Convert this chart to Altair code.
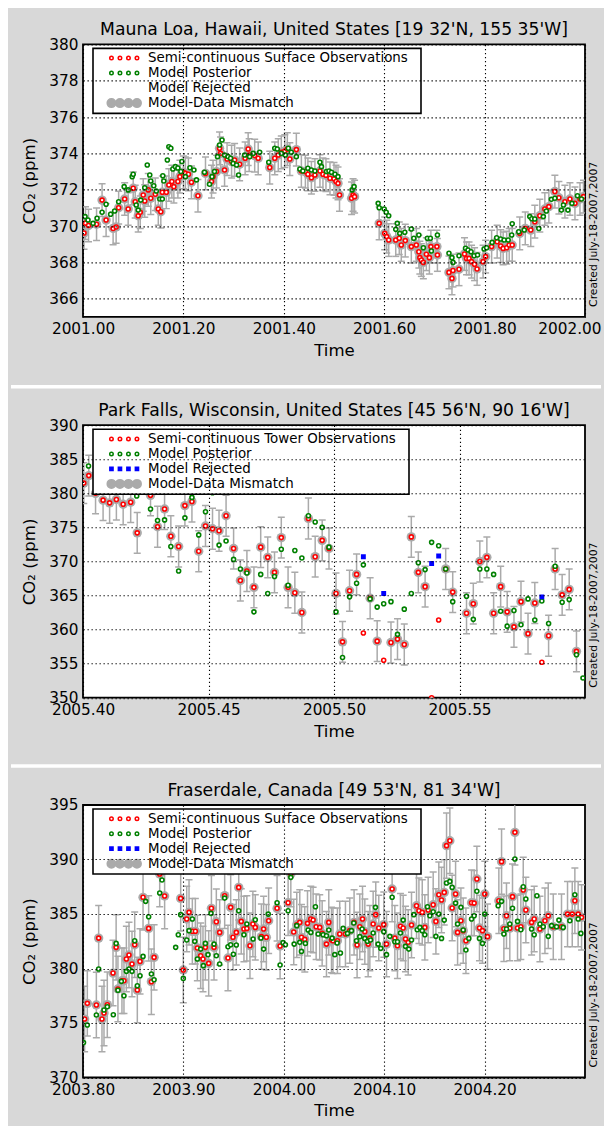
import altair as alt
import pandas as pd

FONT = "DejaVu Sans"
RED, GREEN, BLUE, GRAY = "#ff0000", "#008000", "#0000ff", "#aaaaaa"
BG = "#d8d8d8"
CREATED = "Created July-18-2007,2007"
W, H = 502, 272.5

# ---------------- Mauna Loa ----------------
ML_TITLE = "Mauna Loa, Hawaii, United States [19 32'N, 155 35'W]"
ML_SERIES = ["Semi-continuous Surface Observations", "Model Posterior",
             "Model Rejected", "Model-Data Mismatch"]
ML_X_DOMAIN = [2001.0, 2002.0]
ML_X_TICKS = [2001.0, 2001.2, 2001.4, 2001.6, 2001.8, 2002.0]
ML_Y_DOMAIN = [365, 380]
ML_Y_TICKS = [366, 368, 370, 372, 374, 376, 378, 380]
ML_MISMATCH = 0.9
ML_OBS = [
    (2001.002, 369.62), (2001.005, 370.16), (2001.011, 370.03), (2001.027, 370.10), (2001.038, 371.43),
    (2001.046, 370.33), (2001.060, 369.87), (2001.066, 369.95), (2001.071, 371.01), (2001.083, 371.49),
    (2001.090, 370.94), (2001.100, 372.08), (2001.104, 371.34), (2001.110, 370.57), (2001.114, 370.76),
    (2001.120, 371.71), (2001.123, 371.38), (2001.130, 371.99), (2001.135, 371.53), (2001.144, 371.75),
    (2001.150, 370.94), (2001.155, 370.79), (2001.158, 371.86), (2001.166, 371.86), (2001.171, 372.26),
    (2001.177, 372.45), (2001.181, 372.17), (2001.189, 372.45), (2001.193, 372.72), (2001.200, 372.96),
    (2001.204, 372.90), (2001.210, 372.85), (2001.216, 372.41), (2001.229, 371.67), (2001.244, 372.90),
    (2001.256, 372.45), (2001.259, 372.72), (2001.266, 373.00), (2001.272, 374.28), (2001.274, 374.00),
    (2001.282, 373.09), (2001.287, 373.69), (2001.296, 373.55), (2001.302, 373.64), (2001.312, 373.40),
    (2001.323, 373.73), (2001.329, 374.24), (2001.331, 373.91), (2001.342, 373.88), (2001.349, 373.73),
    (2001.372, 373.22), (2001.382, 373.73), (2001.389, 373.91), (2001.395, 374.06), (2001.402, 374.13),
    (2001.407, 374.24), (2001.412, 373.69), (2001.425, 374.21), (2001.435, 373.03), (2001.443, 373.00),
    (2001.448, 372.85), (2001.455, 372.66), (2001.462, 372.81), (2001.472, 373.03), (2001.478, 372.85),
    (2001.484, 372.80), (2001.492, 372.63), (2001.500, 372.60), (2001.504, 372.45), (2001.508, 372.35),
    (2001.511, 371.71), (2001.535, 371.53), (2001.538, 371.71), (2001.541, 371.62),
    (2001.590, 370.15), (2001.601, 369.60), (2001.605, 369.42), (2001.609, 369.23), (2001.623, 369.23),
    (2001.630, 369.33), (2001.634, 368.96), (2001.642, 369.20), (2001.654, 368.87), (2001.664, 368.96),
    (2001.669, 368.59), (2001.671, 368.26), (2001.674, 368.13), (2001.678, 368.00), (2001.684, 368.45),
    (2001.690, 368.26), (2001.693, 368.87), (2001.705, 368.87), (2001.706, 368.41), (2001.729, 367.45),
    (2001.735, 367.12), (2001.737, 367.55), (2001.749, 367.62), (2001.760, 368.46), (2001.764, 368.22),
    (2001.769, 368.22), (2001.774, 368.04), (2001.780, 367.90), (2001.785, 367.64), (2001.797, 368.04),
    (2001.802, 368.32), (2001.814, 368.87), (2001.825, 369.14), (2001.832, 368.90), (2001.837, 368.77),
    (2001.844, 368.81), (2001.849, 368.96), (2001.855, 368.96), (2001.870, 369.60), (2001.881, 369.87),
    (2001.892, 369.78), (2001.900, 370.24), (2001.910, 370.57), (2001.920, 370.94), (2001.928, 371.07),
    (2001.940, 371.90), (2001.948, 371.56), (2001.960, 371.34), (2001.970, 371.49), (2001.980, 371.25),
    (2001.990, 371.49), (2001.997, 371.62),
]
ML_MODEL = [
    (2001.004, 370.52), (2001.010, 370.33), (2001.020, 370.15), (2001.028, 370.43), (2001.038, 370.76),
    (2001.046, 371.20), (2001.055, 370.65), (2001.063, 370.83), (2001.071, 371.34), (2001.082, 372.17),
    (2001.090, 371.99), (2001.098, 372.72), (2001.100, 372.85), (2001.106, 371.16), (2001.110, 370.88),
    (2001.115, 371.43), (2001.123, 372.11), (2001.128, 373.36), (2001.133, 372.81), (2001.135, 372.48),
    (2001.141, 372.22), (2001.146, 371.93), (2001.153, 371.49), (2001.158, 371.49), (2001.159, 372.77),
    (2001.161, 372.48), (2001.168, 373.64), (2001.171, 374.37), (2001.175, 374.28), (2001.179, 373.14),
    (2001.184, 373.27), (2001.189, 373.20), (2001.195, 373.00), (2001.197, 373.55), (2001.204, 372.72),
    (2001.213, 373.21), (2001.221, 373.09), (2001.226, 372.54), (2001.242, 372.96), (2001.252, 372.30),
    (2001.257, 372.72), (2001.262, 373.00), (2001.268, 373.82), (2001.272, 374.46), (2001.277, 374.74),
    (2001.282, 373.91), (2001.289, 373.82), (2001.294, 373.73), (2001.299, 373.45), (2001.306, 373.36),
    (2001.310, 372.81), (2001.322, 373.91), (2001.332, 373.82), (2001.339, 374.00), (2001.352, 374.06),
    (2001.370, 373.51), (2001.382, 374.28), (2001.387, 374.24), (2001.395, 374.00), (2001.403, 373.91),
    (2001.409, 374.28), (2001.415, 374.06), (2001.425, 373.82), (2001.432, 373.14), (2001.438, 373.03),
    (2001.448, 373.18), (2001.455, 373.09), (2001.462, 373.03), (2001.472, 373.51), (2001.475, 373.27),
    (2001.485, 373.00), (2001.490, 373.03), (2001.495, 372.96), (2001.502, 372.85), (2001.508, 372.72),
    (2001.536, 371.99), (2001.540, 372.17),
    (2001.588, 371.25), (2001.590, 371.01), (2001.600, 370.94), (2001.604, 370.76), (2001.609, 370.57),
    (2001.623, 369.82), (2001.626, 370.15), (2001.631, 369.60), (2001.641, 369.66), (2001.654, 369.84),
    (2001.659, 369.33), (2001.669, 369.51), (2001.678, 368.81), (2001.686, 369.33), (2001.692, 369.33),
    (2001.694, 368.63), (2001.706, 369.51), (2001.729, 368.50), (2001.735, 368.26), (2001.737, 368.00),
    (2001.749, 368.37), (2001.762, 368.78), (2001.767, 368.68), (2001.773, 368.59), (2001.779, 368.37),
    (2001.786, 368.41), (2001.799, 368.74), (2001.804, 368.81), (2001.815, 369.10), (2001.824, 369.36),
    (2001.832, 369.29), (2001.839, 369.23), (2001.847, 369.23), (2001.854, 369.51), (2001.855, 370.13),
    (2001.868, 369.69), (2001.879, 369.78), (2001.890, 370.52), (2001.894, 370.40), (2001.900, 370.39),
    (2001.908, 369.87), (2001.917, 370.52), (2001.923, 370.83), (2001.933, 371.47), (2001.940, 371.53),
    (2001.953, 370.88), (2001.957, 371.16), (2001.966, 370.88), (2001.974, 371.25), (2001.985, 371.67),
    (2001.993, 371.49),
]
ML_REJ_OBS = []
ML_REJECTED = []

# ---------------- Park Falls ----------------
PF_TITLE = "Park Falls, Wisconsin, United States [45 56'N, 90 16'W]"
PF_SERIES = ["Semi-continuous Tower Observations", "Model Posterior",
             "Model Rejected", "Model-Data Mismatch"]
PF_X_DOMAIN = [2005.4, 2005.6]
PF_X_TICKS = [2005.40, 2005.45, 2005.50, 2005.55]
PF_Y_DOMAIN = [350, 390]
PF_Y_TICKS = [350, 355, 360, 365, 370, 375, 380, 385, 390]
PF_MISMATCH = 3.0
PF_OBS = [
    (2005.4003, 381.5), (2005.4023, 382.6), (2005.4050, 380.0), (2005.4080, 379.0), (2005.4106, 378.6),
    (2005.4133, 379.1), (2005.4160, 378.4), (2005.4190, 378.7), (2005.4216, 374.2), (2005.4269, 379.7),
    (2005.4297, 375.1), (2005.4325, 377.7), (2005.4350, 373.7), (2005.4381, 372.2), (2005.4406, 378.2),
    (2005.4434, 378.8), (2005.4461, 371.5), (2005.4488, 375.2), (2005.4516, 374.8), (2005.4542, 374.5),
    (2005.4570, 376.7), (2005.4600, 371.9), (2005.4627, 367.2), (2005.4653, 368.6), (2005.4681, 366.2),
    (2005.4708, 372.1), (2005.4736, 370.6), (2005.4763, 368.4), (2005.4790, 373.5), (2005.4817, 366.2),
    (2005.4844, 365.4), (2005.4872, 362.5), (2005.4898, 376.3), (2005.4925, 370.7), (2005.4953, 373.1),
    (2005.4980, 371.9), (2005.5008, 365.3), (2005.5034, 358.2), (2005.5062, 365.7), (2005.5090, 368.1),
    (2005.5144, 364.6), (2005.5172, 358.3), (2005.5227, 358.1), (2005.5253, 358.6), (2005.5280, 357.8),
    (2005.5308, 373.6), (2005.5336, 368.4), (2005.5363, 366.3), (2005.5445, 368.9), (2005.5473, 365.5),
    (2005.5528, 362.4), (2005.5555, 363.8), (2005.5581, 370.0), (2005.5609, 370.6), (2005.5636, 362.4),
    (2005.5664, 366.3), (2005.5690, 362.6), (2005.5717, 360.4), (2005.5745, 364.1), (2005.5773, 359.4),
    (2005.5800, 363.9), (2005.5855, 359.1), (2005.5881, 368.9), (2005.5909, 365.1), (2005.5937, 365.9),
    (2005.5966, 356.8),
]
PF_REJ_OBS = [(2005.5117, 359.5), (2005.5198, 355.5), (2005.5389, 350.0), (2005.5417, 361.4),
              (2005.5828, 355.2)]
PF_MODEL = [
    (2005.4022, 384.0), (2005.4214, 379.6), (2005.4269, 377.7), (2005.4297, 376.0), (2005.4325, 376.1),
    (2005.4350, 372.2), (2005.4381, 368.6), (2005.4406, 376.4), (2005.4434, 379.4), (2005.4461, 373.9),
    (2005.4488, 377.3), (2005.4516, 380.1), (2005.4542, 372.4), (2005.4570, 373.0), (2005.4600, 370.3),
    (2005.4627, 368.9), (2005.4653, 368.3), (2005.4681, 362.6), (2005.4708, 368.1), (2005.4736, 365.3),
    (2005.4763, 367.8), (2005.4790, 371.8), (2005.4817, 366.5), (2005.4844, 371.6), (2005.4872, 370.5),
    (2005.4898, 376.7), (2005.4925, 375.8), (2005.4953, 375.0), (2005.4980, 372.1), (2005.5008, 362.6),
    (2005.5034, 355.9), (2005.5062, 364.8), (2005.5090, 366.8), (2005.5117, 369.5), (2005.5144, 364.5),
    (2005.5172, 363.3), (2005.5198, 363.8), (2005.5227, 364.1), (2005.5253, 359.3), (2005.5280, 363.0),
    (2005.5308, 365.3), (2005.5336, 369.8), (2005.5363, 368.8), (2005.5389, 372.8), (2005.5417, 372.3),
    (2005.5445, 368.9), (2005.5473, 364.1), (2005.5528, 364.9), (2005.5555, 361.5), (2005.5581, 368.9),
    (2005.5609, 368.9), (2005.5636, 368.1), (2005.5664, 362.7), (2005.5690, 360.5), (2005.5717, 362.8),
    (2005.5745, 360.7), (2005.5773, 364.5), (2005.5800, 361.4), (2005.5828, 364.2), (2005.5855, 360.9),
    (2005.5881, 369.3), (2005.5909, 364.0), (2005.5937, 364.4), (2005.5966, 356.3), (2005.5992, 352.9),
]
PF_REJECTED = [(2005.5117, 370.7), (2005.5198, 365.3), (2005.5389, 369.7), (2005.5417, 370.8),
               (2005.5828, 364.8)]

# ---------------- Fraserdale ----------------
FR_TITLE = "Fraserdale, Canada [49 53'N, 81 34'W]"
FR_SERIES = ["Semi-continuous Surface Observations", "Model Posterior",
             "Model Rejected", "Model-Data Mismatch"]
FR_X_DOMAIN = [2003.8, 2004.3]
FR_X_TICKS = [2003.8, 2003.9, 2004.0, 2004.1, 2004.2]
FR_Y_DOMAIN = [370, 395]
FR_Y_TICKS = [370, 375, 380, 385, 390, 395]
FR_MISMATCH = 3.0
FR_OBS = [
    (2003.8016, 375.36), (2003.8043, 376.80), (2003.8133, 376.65), (2003.8156, 382.79), (2003.8189, 375.36),
    (2003.8209, 375.91), (2003.8242, 376.68), (2003.8299, 379.58), (2003.8330, 381.94), (2003.8348, 378.12),
    (2003.8388, 378.88), (2003.8408, 378.88), (2003.8432, 380.87), (2003.8458, 381.24), (2003.8488, 380.41),
    (2003.8515, 382.18), (2003.8541, 378.02), (2003.8568, 380.65), (2003.8598, 386.53), (2003.8654, 383.68),
    (2003.8681, 378.79), (2003.8708, 381.02), (2003.8764, 388.67), (2003.8813, 386.65), (2003.8973, 386.43),
    (2003.8999, 379.86), (2003.9033, 384.54), (2003.9056, 385.15), (2003.9089, 383.41), (2003.9119, 383.41),
    (2003.9139, 381.88), (2003.9172, 381.17), (2003.9195, 380.87), (2003.9219, 381.94), (2003.9252, 380.47),
    (2003.9279, 385.52), (2003.9305, 381.94), (2003.9328, 384.29), (2003.9361, 383.31), (2003.9411, 386.68),
    (2003.9444, 380.96), (2003.9471, 385.61), (2003.9494, 382.86), (2003.9527, 383.31), (2003.9551, 387.44),
    (2003.9576, 384.32), (2003.9603, 383.62), (2003.9632, 383.68), (2003.9663, 382.09), (2003.9692, 384.08),
    (2003.9716, 383.77), (2003.9777, 382.92), (2003.9799, 383.62), (2003.9826, 382.86), (2003.9849, 384.38),
    (2003.9933, 385.52), (2003.9963, 382.06), (2004.0043, 386.03), (2004.0070, 388.67), (2004.0099, 383.35),
    (2004.0129, 384.00), (2004.0159, 384.23), (2004.0176, 382.86), (2004.0209, 382.67), (2004.0236, 384.14),
    (2004.0269, 384.54), (2004.0292, 384.45), (2004.0322, 383.83), (2004.0358, 383.77), (2004.0382, 383.22),
    (2004.0425, 382.24), (2004.0448, 384.23), (2004.0475, 382.61), (2004.0490, 382.55), (2004.0534, 382.55),
    (2004.0557, 383.16), (2004.0614, 383.16), (2004.0657, 383.47), (2004.0700, 384.23), (2004.0730, 382.15),
    (2004.0757, 383.83), (2004.0784, 384.54), (2004.0807, 383.38), (2004.0840, 382.24), (2004.0857, 382.79),
    (2004.0890, 384.08), (2004.0916, 384.94), (2004.0946, 383.71), (2004.0996, 384.02), (2004.1023, 382.24),
    (2004.1079, 387.29), (2004.1106, 382.79), (2004.1132, 382.09), (2004.1162, 383.87), (2004.1189, 383.71),
    (2004.1212, 382.70), (2004.1239, 382.40), (2004.1272, 383.99), (2004.1322, 385.76), (2004.1346, 385.30),
    (2004.1379, 385.15), (2004.1405, 383.77), (2004.1438, 385.36), (2004.1488, 385.85), (2004.1515, 384.32),
    (2004.1544, 386.77), (2004.1571, 386.28), (2004.1598, 386.98), (2004.1621, 391.27), (2004.1654, 391.72),
    (2004.1677, 385.55), (2004.1711, 386.83), (2004.1731, 383.31), (2004.1764, 384.38), (2004.1787, 383.47),
    (2004.1814, 382.55), (2004.1870, 386.03), (2004.1896, 386.00), (2004.1923, 388.21), (2004.1949, 383.71),
    (2004.1979, 383.47), (2004.2002, 386.83), (2004.2029, 382.92), (2004.2142, 386.22), (2004.2169, 389.80),
    (2004.2192, 383.65), (2004.2218, 384.84), (2004.2251, 383.70), (2004.2278, 386.59), (2004.2302, 392.49),
    (2004.2328, 383.71), (2004.2361, 383.83), (2004.2385, 387.20), (2004.2411, 385.36), (2004.2468, 384.23),
    (2004.2494, 384.54), (2004.2551, 383.62), (2004.2601, 384.38), (2004.2634, 384.84), (2004.2684, 383.83),
    (2004.2766, 383.83), (2004.2826, 384.99), (2004.2873, 384.99), (2004.2899, 386.22), (2004.2932, 384.99),
    (2004.2966, 384.69),
]
FR_MODEL = [
    (2003.8005, 373.20), (2003.8043, 374.81), (2003.8133, 375.73), (2003.8156, 379.95), (2003.8209, 376.19),
    (2003.8242, 376.49), (2003.8302, 375.76), (2003.8330, 382.30), (2003.8348, 378.00), (2003.8382, 378.82),
    (2003.8408, 377.50), (2003.8432, 379.74), (2003.8458, 379.95), (2003.8488, 379.74), (2003.8515, 382.55),
    (2003.8541, 378.42), (2003.8568, 379.34), (2003.8598, 381.11), (2003.8624, 386.16), (2003.8654, 384.75),
    (2003.8681, 379.49), (2003.8708, 378.97), (2003.8764, 386.92), (2003.8787, 388.12), (2003.8923, 381.94),
    (2003.8949, 383.10), (2003.8973, 384.94), (2003.8999, 379.09), (2003.9033, 382.61), (2003.9056, 383.47),
    (2003.9089, 384.54), (2003.9113, 382.49), (2003.9139, 380.87), (2003.9172, 381.78), (2003.9199, 380.26),
    (2003.9219, 382.30), (2003.9245, 381.27), (2003.9275, 385.06), (2003.9305, 382.24), (2003.9328, 381.17),
    (2003.9361, 380.41), (2003.9411, 386.46), (2003.9444, 382.00), (2003.9471, 382.18), (2003.9498, 381.30),
    (2003.9527, 382.15), (2003.9551, 385.30), (2003.9603, 383.10), (2003.9632, 384.08), (2003.9694, 382.70),
    (2003.9716, 384.47), (2003.9772, 382.80), (2003.9799, 381.78), (2003.9845, 384.99), (2003.9933, 386.03),
    (2003.9963, 380.32), (2003.9993, 382.37), (2004.0016, 382.18), (2004.0043, 385.30), (2004.0070, 388.36),
    (2004.0103, 382.24), (2004.0129, 383.93), (2004.0159, 382.40), (2004.0176, 381.57), (2004.0215, 382.30),
    (2004.0242, 383.53), (2004.0269, 383.31), (2004.0315, 385.67), (2004.0342, 383.16), (2004.0392, 383.10),
    (2004.0425, 383.00), (2004.0448, 383.53), (2004.0481, 382.79), (2004.0508, 381.27), (2004.0531, 382.34),
    (2004.0564, 381.42), (2004.0591, 383.68), (2004.0634, 383.22), (2004.0674, 383.47), (2004.0697, 384.17),
    (2004.0724, 382.55), (2004.0757, 382.92), (2004.0780, 383.62), (2004.0807, 382.76), (2004.0833, 382.49),
    (2004.0864, 382.61), (2004.0890, 383.25), (2004.0913, 385.61), (2004.0939, 382.24), (2004.0966, 381.85),
    (2004.0996, 383.38), (2004.1023, 381.27), (2004.1056, 382.95), (2004.1079, 386.53), (2004.1106, 382.46),
    (2004.1132, 382.46), (2004.1162, 383.25), (2004.1189, 384.44), (2004.1212, 382.03), (2004.1245, 381.78),
    (2004.1272, 382.61), (2004.1295, 384.94), (2004.1329, 383.56), (2004.1355, 383.77), (2004.1379, 383.47),
    (2004.1405, 383.10), (2004.1431, 385.67), (2004.1455, 384.84), (2004.1488, 385.21), (2004.1515, 382.95),
    (2004.1544, 384.99), (2004.1571, 382.76), (2004.1598, 384.44), (2004.1621, 387.84), (2004.1654, 387.99),
    (2004.1677, 387.44), (2004.1711, 386.00), (2004.1731, 384.08), (2004.1764, 385.61), (2004.1787, 383.53),
    (2004.1814, 381.69), (2004.1843, 382.76), (2004.1870, 384.54), (2004.1896, 384.84), (2004.1923, 387.08),
    (2004.1949, 382.76), (2004.1979, 382.30), (2004.2002, 384.99), (2004.2135, 385.76), (2004.2169, 386.16),
    (2004.2192, 383.16), (2004.2218, 383.62), (2004.2251, 384.08), (2004.2278, 385.52), (2004.2302, 390.04),
    (2004.2328, 384.32), (2004.2361, 383.56), (2004.2385, 387.50), (2004.2411, 386.37), (2004.2468, 383.62),
    (2004.2494, 383.10), (2004.2521, 386.68), (2004.2551, 384.08), (2004.2584, 383.83), (2004.2634, 382.95),
    (2004.2667, 383.93), (2004.2717, 383.83), (2004.2740, 384.44), (2004.2783, 383.77), (2004.2849, 384.38),
    (2004.2899, 386.77), (2004.2932, 384.54), (2004.2959, 383.22),
]
FR_REJ_OBS = []
FR_REJECTED = []

# ---------------- legend symbols (4 markers per entry, like the original) ----------------
CX = [-2.55, -0.85, 0.85, 2.55]


def circles_path(r):
    return "".join(
        f"M{c - r:.3f},0A{r},{r},0,1,1,{c + r:.3f},0A{r},{r},0,1,1,{c - r:.3f},0Z" for c in CX)


def squares_path(h):
    return "".join(f"M{c - h:.3f},{-h}H{c + h:.3f}V{h}H{c - h:.3f}Z" for c in CX)


SYMBOLS = [circles_path(0.35), circles_path(0.35), squares_path(0.32), circles_path(0.85)]


def x_enc(field, dom, ticks):
    # the last label (when it sits on the right edge) is kept inside the page
    at_end = f"datum.value >= {dom[1]} - 1e-9"
    return alt.X(field, type="quantitative",
                 scale=alt.Scale(domain=dom, nice=False, zero=False),
                 axis=alt.Axis(values=ticks, format=".2f", title="Time", grid=True, ticks=False,
                               domain=False, labelFlush=False, labelOverlap=False,
                               labelAlign={"condition": {"test": at_end, "value": "right"},
                                           "value": "center"},
                               labelOffset={"condition": {"test": at_end, "value": 16},
                                            "value": 0},
                               gridColor="black", gridDash=[1.3, 2.7], gridWidth=1.1, gridOpacity=1,
                               labelPadding=5, titlePadding=5.2, zindex=1))


def y_enc(field, dom, ticks):
    return alt.Y(field, type="quantitative",
                 scale=alt.Scale(domain=dom, nice=False, zero=False),
                 axis=alt.Axis(values=ticks, format="d", title="CO₂ (ppm)", grid=True, ticks=False,
                               domain=False, labelFlush=False, labelOverlap=False,
                               gridColor="black", gridDash=[1.3, 2.7], gridWidth=1.1, gridOpacity=1,
                               labelPadding=5, titlePadding=11, zindex=1))


def make_panel(title, series, obs, rej_obs, model, rejected, mismatch,
               xdom, xticks, ydom, yticks, rejected_symbol, separator_y):
    X = x_enc("t", xdom, xticks)
    obs_df = pd.DataFrame(obs, columns=["t", "v"])
    base = alt.Chart(obs_df).transform_calculate(
        lo=f"datum.v - {mismatch}", hi=f"datum.v + {mismatch}")
    point_style = dict(shape="circle", filled=True, fill="white", strokeWidth=1.6,
                       size=16, opacity=1, clip=True)
    layers = [
        base.mark_rule(color=GRAY, strokeWidth=1.5, clip=True).encode(
            x=X, y=y_enc("lo", ydom, yticks), y2="hi:Q"),
        base.mark_tick(orient="horizontal", size=7, thickness=1.5, color=GRAY, opacity=1,
                       clip=True).encode(x=X, y=y_enc("lo", ydom, yticks)),
        base.mark_tick(orient="horizontal", size=7, thickness=1.5, color=GRAY, opacity=1,
                       clip=True).encode(x=X, y=y_enc("hi", ydom, yticks)),
        base.mark_circle(size=88, color=GRAY, opacity=1, clip=True).encode(
            x=X, y=y_enc("v", ydom, yticks)),
        base.mark_point(stroke=RED, **point_style).encode(x=X, y=y_enc("v", ydom, yticks)),
    ]
    if rej_obs:
        layers.append(
            alt.Chart(pd.DataFrame(rej_obs, columns=["t", "v"])).mark_point(
                stroke=RED, **point_style).encode(x=X, y=y_enc("v", ydom, yticks)))
    layers.append(
        alt.Chart(pd.DataFrame(model, columns=["t", "v"])).mark_point(
            stroke=GREEN, **point_style).encode(x=X, y=y_enc("v", ydom, yticks)))
    if rejected:
        layers.append(
            alt.Chart(pd.DataFrame(rejected, columns=["t", "v"])).mark_square(
                size=24, color=BLUE, opacity=1, clip=True).encode(
                x=X, y=y_enc("v", ydom, yticks)))
    main = alt.layer(*layers)

    fills = ["white", "white", BLUE if rejected_symbol else "transparent", GRAY]
    strokes = [RED, GREEN, BLUE if rejected_symbol else "transparent", GRAY]
    # a trailing blank glyph widens the legend frame like the original's
    leg = alt.Legend(orient="none", legendX=10, legendY=4, title=None,
                     labelExpr="datum.label + '\u2800'")
    leg_df = pd.DataFrame({"series": series, "d": [0.0] * len(series)})
    dummy = alt.Chart(leg_df).transform_filter("datum.d > 1").mark_point(
        filled=True, opacity=1).encode(
        shape=alt.Shape("series:N", scale=alt.Scale(domain=series, range=SYMBOLS), legend=leg),
        fill=alt.Fill("series:N", scale=alt.Scale(domain=series, range=fills), legend=leg),
        stroke=alt.Stroke("series:N", scale=alt.Scale(domain=series, range=strokes), legend=leg),
        y=alt.Y("d:Q", scale=alt.Scale(domain=[0, 1]),
                axis=alt.Axis(orient="right", labels=False, ticks=False, domain=False, grid=False,
                              title=CREATED, titleFontSize=10.8, titleAngle=270,
                              titleAlign="left", titleBaseline="top",
                              titleX=3, titleY=H - 10.5)),
    )
    parts = [main, dummy]
    if separator_y is not None:
        # white strip below this panel that separates the grey figure panels
        parts.append(
            alt.Chart(leg_df.head(1)).mark_rule(color="white", strokeWidth=3.5, clip=False).encode(
                x=alt.value(-72), x2=alt.value(W + 16), y=alt.value(separator_y)))
    return alt.layer(*parts).resolve_scale(y="independent").properties(
        width=W, height=H, title=title)


p1 = make_panel(ML_TITLE, ML_SERIES, ML_OBS, ML_REJ_OBS, ML_MODEL, ML_REJECTED, ML_MISMATCH,
                ML_X_DOMAIN, ML_X_TICKS, ML_Y_DOMAIN, ML_Y_TICKS, False, H + 69.8)
p2 = make_panel(PF_TITLE, PF_SERIES, PF_OBS, PF_REJ_OBS, PF_MODEL, PF_REJECTED, PF_MISMATCH,
                PF_X_DOMAIN, PF_X_TICKS, PF_Y_DOMAIN, PF_Y_TICKS, True, H + 68.4)
p3 = make_panel(FR_TITLE, FR_SERIES, FR_OBS, FR_REJ_OBS, FR_MODEL, FR_REJECTED, FR_MISMATCH,
                FR_X_DOMAIN, FR_X_TICKS, FR_Y_DOMAIN, FR_Y_TICKS, True, None)

chart = alt.vconcat(p1, p2, p3, spacing=10.8).resolve_scale(
    shape="independent", fill="independent", stroke="independent"
).resolve_legend(
    shape="independent", fill="independent", stroke="independent"
).configure(
    background=BG, font=FONT,
    padding={"left": 0, "top": 11.4, "right": 0, "bottom": 5},
).configure_view(
    stroke="black", strokeWidth=1.8, fill="white"
).configure_axis(
    labelFont=FONT, titleFont=FONT, labelColor="black", titleColor="black",
    titleFontWeight="normal", labelFontSize=15.3, titleFontSize=16.6,
).configure_title(
    font=FONT, fontSize=17.2, fontWeight="normal", color="black", offset=-1,
    anchor="middle", frame="group",
).configure_legend(
    padding=3, strokeColor="black", strokeWidth=1.6, fillColor="white", cornerRadius=0,
    labelFont=FONT, labelFontSize=13.4, labelColor="black", labelLimit=500,
    symbolSize=100, symbolStrokeWidth=1.5, symbolOffset=21.5, labelOffset=17.2, rowPadding=0,
)

chart.save("out.html", embed_options={"renderer": "svg", "actions": False})
